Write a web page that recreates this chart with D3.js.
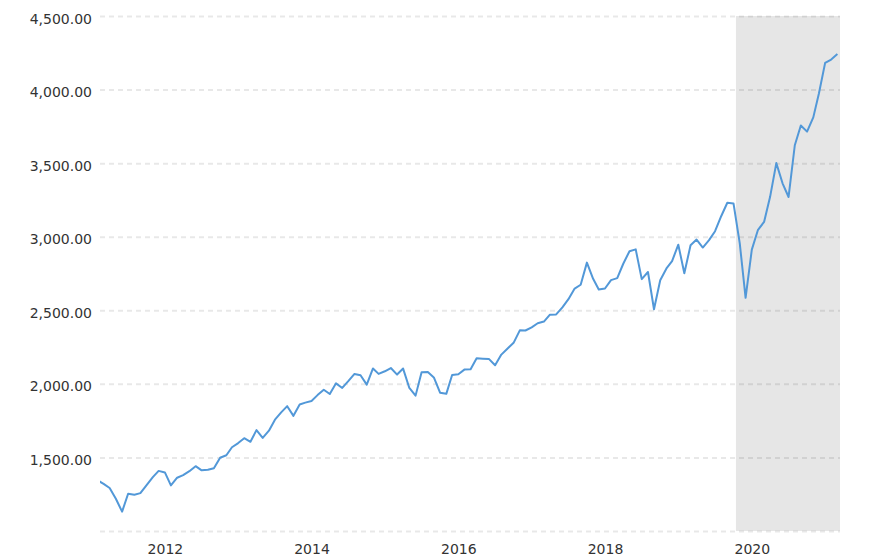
<!DOCTYPE html>
<html>
<head>
<meta charset="utf-8">
<script src="https://cdn.jsdelivr.net/npm/d3@7"></script>
<style>
  html, body { margin: 0; padding: 0; background: #fff; }
  svg text { font-family: "DejaVu Sans", Verdana, sans-serif; fill: #333; }
</style>
</head>
<body>
<svg id="chart" width="888" height="560"></svg>
<script>
// S&P 500 monthly closes, by year (first of month dates)
const firstMonth = "2011-05";
const sp2011 = [1345.20, 1320.64, 1292.28, 1218.89, 1131.42, 1253.30, 1246.96, 1257.60];
const sp2012 = [1312.41, 1365.68, 1408.47, 1397.91, 1310.33, 1362.16, 1379.32, 1406.58, 1440.67, 1412.16, 1416.18, 1426.19];
const sp2013 = [1498.11, 1514.68, 1569.19, 1597.57, 1630.74, 1606.28, 1685.73, 1632.97, 1681.55, 1756.54, 1805.81, 1848.36];
const sp2014 = [1782.59, 1859.45, 1872.34, 1883.95, 1923.57, 1960.23, 1930.67, 2003.37, 1972.29, 2018.05, 2067.56, 2058.90];
const sp2015 = [1994.99, 2104.50, 2067.89, 2085.51, 2107.39, 2063.11, 2103.84, 1972.18, 1920.03, 2079.36, 2080.41, 2043.94];
const sp2016 = [1940.24, 1932.23, 2059.74, 2065.30, 2096.95, 2098.86, 2173.60, 2170.95, 2168.27, 2126.15, 2198.81, 2238.83];
const sp2017 = [2278.87, 2363.64, 2362.72, 2384.20, 2411.80, 2423.41, 2470.30, 2471.65, 2519.36, 2575.26, 2647.58, 2673.61];
const sp2018 = [2823.81, 2713.83, 2640.87, 2648.05, 2705.27, 2718.37, 2816.29, 2901.52, 2913.98, 2711.74, 2760.17, 2506.85];
const sp2019 = [2704.10, 2784.49, 2834.40, 2945.83, 2752.06, 2941.76, 2980.38, 2926.46, 2976.74, 3037.56, 3140.98, 3230.78];
const sp2020 = [3225.52, 2954.22, 2584.59, 2912.43, 3044.31, 3100.29, 3271.12, 3500.31, 3363.00, 3269.96, 3621.63, 3756.07];
const sp2021 = [3714.24, 3811.15, 3972.89, 4181.17, 4204.11, 4241.00];

const xDomain = ["2011-05-14", "2021-06-14"];
const yTicks = [1000, 1500, 2000, 2500, 3000, 3500, 4000, 4500];
const xTickYears = [2012, 2014, 2016, 2018, 2020];
const recession = ["2020-01-13", "2021-06-14"];

// build table
const parse = d3.timeParse("%Y-%m-%d");
const allValues = [].concat(sp2011, sp2012, sp2013, sp2014, sp2015, sp2016, sp2017, sp2018, sp2019, sp2020, sp2021);
const start = d3.timeParse("%Y-%m")(firstMonth);
const data = allValues.map((v, i) => ({ date: d3.timeMonth.offset(start, i), value: v }));

const svg = d3.select("#chart");
const mLeft = 100, mRight = 840, mTop = 16, mBottom = 531;

const x = d3.scaleTime().domain(xDomain.map(parse)).range([mLeft, mRight]);
const y = d3.scaleLinear().domain([1000, 4500]).range([mBottom, mTop]);

// clip
svg.append("defs").append("clipPath").attr("id", "plotclip")
  .append("rect").attr("x", mLeft).attr("y", 0).attr("width", mRight - mLeft).attr("height", mBottom + 2);

// recession band
svg.append("rect")
  .attr("x", x(parse(recession[0])))
  .attr("y", y(4500))
  .attr("width", x(parse(recession[1])) - x(parse(recession[0])))
  .attr("height", y(1000) - y(4500))
  .attr("fill", "#e6e6e6");

// grid
const yAxis = d3.axisLeft(y).tickValues(yTicks).tickSize(-(mRight - mLeft))
  .tickFormat(d => d === 1000 ? "" : d3.format(",.2f")(d)).tickPadding(8);
const gy = svg.append("g").attr("transform", `translate(${mLeft},0)`).call(yAxis);
gy.select(".domain").remove();
gy.selectAll(".tick line")
  .attr("stroke", "rgba(0,0,0,0.09)")
  .attr("stroke-width", 2)
  .attr("stroke-dasharray", "5,4");
gy.selectAll(".tick text")
  .attr("font-size", 14)
  .attr("fill", "#333")
  .attr("dy", "0.5em");

// x axis labels
const xAxis = d3.axisBottom(x)
  .tickValues(xTickYears.map(yr => new Date(yr, 3, 1)))
  .tickFormat(d3.timeFormat("%Y"))
  .tickSize(0).tickPadding(13);
const gx = svg.append("g").attr("transform", `translate(0,${mBottom})`).call(xAxis);
gx.select(".domain").remove();
gx.selectAll(".tick text").attr("font-size", 14).attr("fill", "#333");

// line
const line = d3.line().x(d => x(d.date)).y(d => y(d.value));
svg.append("path")
  .datum(data)
  .attr("clip-path", "url(#plotclip)")
  .attr("fill", "none")
  .attr("stroke", "#5298d8")
  .attr("stroke-width", 2)
  .attr("stroke-linejoin", "round")
  .attr("d", line);
</script>
</body>
</html>
